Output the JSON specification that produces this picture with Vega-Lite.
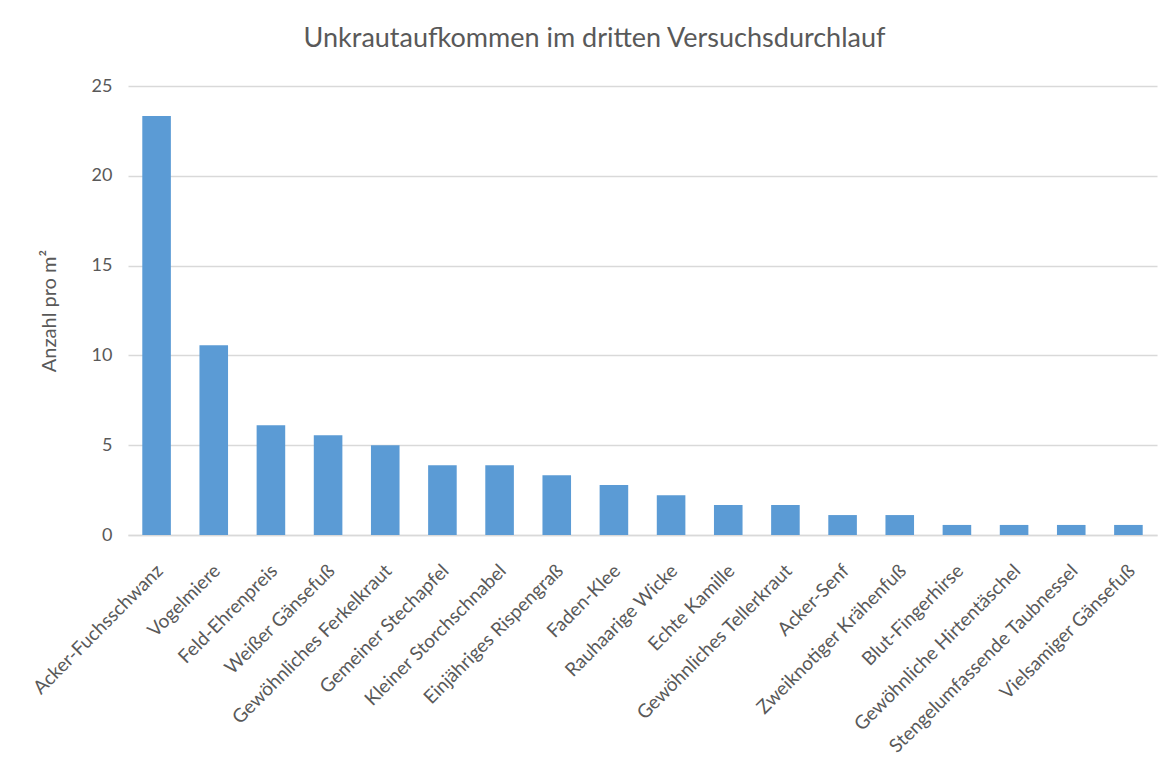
{
  "$schema": "https://vega.github.io/schema/vega-lite/v6.json",
  "width": 1029,
  "height": 449,
  "autosize": {"type": "none"},
  "padding": {"left": 128, "top": 86, "right": 15, "bottom": 236},
  "background": "white",
  "title": {
    "text": "Unkrautaufkommen im dritten Versuchsdurchlauf",
    "font": "Lato",
    "fontSize": 27,
    "fontWeight": "normal",
    "color": "#595959",
    "anchor": "middle",
    "frame": "group",
    "dx": -48,
    "offset": 24
  },
  "data": {
    "values": [
      {"Art": "Acker-Fuchsschwanz", "Anzahl": 23.33},
      {"Art": "Vogelmiere", "Anzahl": 10.56},
      {"Art": "Feld-Ehrenpreis", "Anzahl": 6.11},
      {"Art": "Weißer Gänsefuß", "Anzahl": 5.56},
      {"Art": "Gewöhnliches Ferkelkraut", "Anzahl": 5.0},
      {"Art": "Gemeiner Stechapfel", "Anzahl": 3.89},
      {"Art": "Kleiner Storchschnabel", "Anzahl": 3.89},
      {"Art": "Einjähriges Rispengraß", "Anzahl": 3.33},
      {"Art": "Faden-Klee", "Anzahl": 2.78},
      {"Art": "Rauhaarige Wicke", "Anzahl": 2.22},
      {"Art": "Echte Kamille", "Anzahl": 1.67},
      {"Art": "Gewöhnliches Tellerkraut", "Anzahl": 1.67},
      {"Art": "Acker-Senf", "Anzahl": 1.11},
      {"Art": "Zweiknotiger Krähenfuß", "Anzahl": 1.11},
      {"Art": "Blut-Fingerhirse", "Anzahl": 0.56},
      {"Art": "Gewöhnliche Hirtentäschel", "Anzahl": 0.56},
      {"Art": "Stengelumfassende Taubnessel", "Anzahl": 0.56},
      {"Art": "Vielsamiger Gänsefuß", "Anzahl": 0.56}
    ]
  },
  "mark": {"type": "bar", "color": "#5B9BD5"},
  "encoding": {
    "x": {
      "field": "Art",
      "type": "nominal",
      "sort": null,
      "scale": {"paddingInner": 0.5, "paddingOuter": 0.25},
      "axis": {
        "title": null,
        "labelAngle": -45,
        "labelFont": "Lato",
        "labelFontSize": 19,
        "labelColor": "#595959",
        "labelPadding": 26,
        "labelOffset": -3,
        "ticks": false,
        "domainColor": "#D9D9D9",
        "domainWidth": 1.5,
        "labelLimit": 400
      }
    },
    "y": {
      "field": "Anzahl",
      "type": "quantitative",
      "scale": {"domain": [0, 25]},
      "axis": {
        "title": "Anzahl pro m²",
        "titleFont": "Lato",
        "titleFontSize": 20,
        "titleFontWeight": "normal",
        "titleColor": "#595959",
        "titlePadding": 32,
        "values": [0, 5, 10, 15, 20, 25],
        "labelFont": "Lato",
        "labelFontSize": 18,
        "labelColor": "#595959",
        "labelPadding": 16,
        "ticks": false,
        "domain": false,
        "gridColor": "#D9D9D9",
        "gridWidth": 1.5
      }
    }
  },
  "config": {
    "view": {"stroke": null}
  }
}
